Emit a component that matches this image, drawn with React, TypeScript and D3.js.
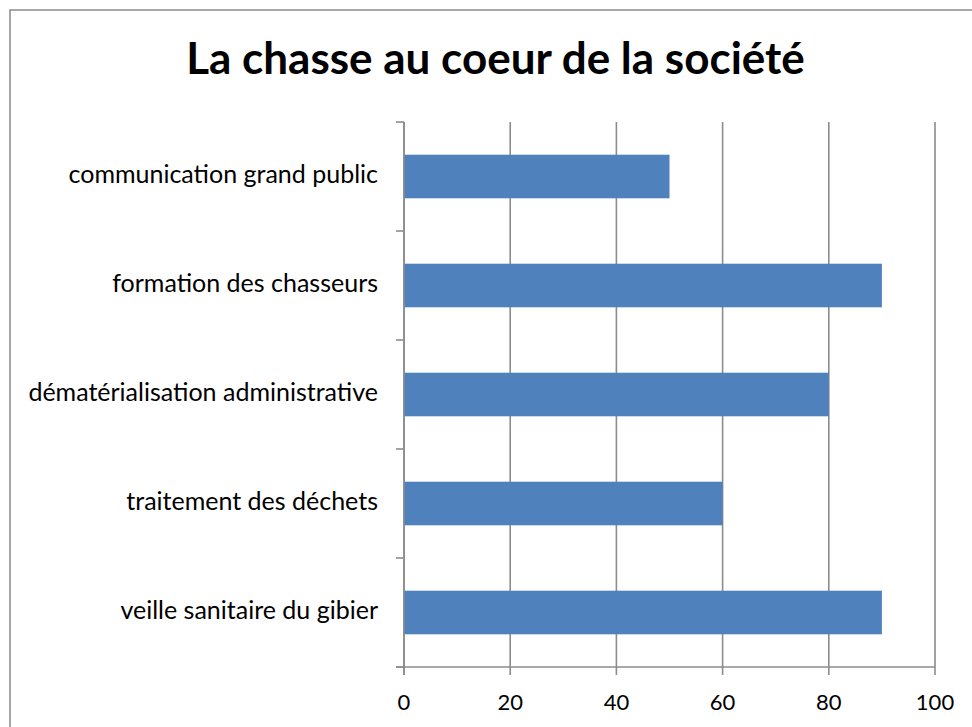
import React from "react";
import * as d3 from "d3";

const categories = [
  "communication grand public",
  "formation des chasseurs",
  "dématérialisation administrative",
  "traitement des déchets",
  "veille sanitaire du gibier",
];
const values = [50, 90, 80, 60, 90];
const xTicks = [0, 20, 40, 60, 80, 100];
const title = "La chasse au coeur de la société";

const W = 972;
const H = 727;
const plot = { left: 404, right: 935, top: 122, bottom: 667 };
const FONT = "Lato, 'Open Sans', sans-serif";
const GRID = "#8c8c8c";

export default function App() {
  const x = d3.scaleLinear().domain([0, 100]).range([plot.left, plot.right]);
  const y = d3
    .scaleBand<string>()
    .domain(categories)
    .range([plot.top, plot.bottom])
    .paddingInner(0.6)
    .paddingOuter(0.3);
  const band = d3.scaleBand<string>().domain(categories).range([plot.top, plot.bottom]);
  const step = band.step();
  const boundaries = d3.range(categories.length + 1).map((i) => plot.top + i * step);

  return (
    <svg
      width={W}
      height={H}
      style={{ position: "absolute", left: 0, top: 0, background: "#fff" }}
    >
      <rect x={0} y={0} width={W} height={H} fill="#fff" />
      <rect x={10} y={10} width={W + 20} height={H + 20} fill="none" stroke="#8a8a8a" strokeWidth={1.5} />
      <text
        x={495.5}
        y={74}
        textAnchor="middle"
        fontFamily={FONT}
        fontWeight="bold"
        fontSize={44}
        fill="#000"
      >
        {title}
      </text>
      {xTicks.map((t) => (
        <line
          key={"g" + t}
          x1={x(t)}
          x2={x(t)}
          y1={plot.top}
          y2={plot.bottom + 8}
          stroke={GRID}
          strokeWidth={1.6}
        />
      ))}
      {boundaries.map((b, i) => (
        <line
          key={"yt" + i}
          x1={plot.left - 8}
          x2={plot.left}
          y1={b}
          y2={b}
          stroke={GRID}
          strokeWidth={1.6}
        />
      ))}
      <line x1={plot.left - 8} x2={plot.right} y1={plot.bottom} y2={plot.bottom} stroke={GRID} strokeWidth={1.6} />
      {categories.map((c, i) => (
        <rect
          key={"b" + c}
          x={x(0)}
          y={y(c)!}
          width={x(values[i]) - x(0)}
          height={y.bandwidth()}
          fill="#4f81bd"
        />
      ))}
      <line x1={plot.left} x2={plot.left} y1={plot.top} y2={plot.bottom + 8} stroke={GRID} strokeWidth={1.6} />
      {categories.map((c) => (
        <text
          key={"l" + c}
          x={378}
          y={band(c)! + step / 2}
          dy="0.27em"
          textAnchor="end"
          fontFamily={FONT}
          fontSize={25}
          fill="#000"
        >
          {c}
        </text>
      ))}
      {xTicks.map((t) => (
        <text
          key={"t" + t}
          x={x(t)}
          y={710}
          textAnchor="middle"
          fontFamily={FONT}
          fontSize={22}
          fill="#000"
        >
          {t}
        </text>
      ))}
    </svg>
  );
}
